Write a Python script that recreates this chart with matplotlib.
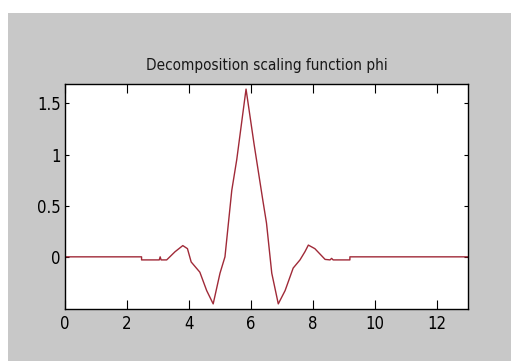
import matplotlib.pyplot as plt
from matplotlib.patches import Rectangle

# points
x_pts = [0, 2.47, 2.47, 3.04, 3.07, 3.10, 3.28, 3.55, 3.80, 3.95, 4.07, 4.35,
         4.57, 4.78, 5.00, 5.16, 5.38, 5.54, 5.84, 6.10, 6.38, 6.50, 6.67, 6.88,
         7.10, 7.36, 7.58, 7.74, 7.85, 8.06, 8.39, 8.55, 8.60, 8.65, 9.19, 9.19, 13]
y_pts = [0, 0, -0.03, -0.03, 0.0, -0.03, -0.03, 0.05, 0.11, 0.08, -0.05, -0.15,
         -0.33, -0.46, -0.16, 0.0, 0.65, 0.95, 1.64, 1.10, 0.556, 0.33, -0.16, -0.46,
         -0.33, -0.11, -0.03, 0.05, 0.115, 0.08, -0.025, -0.03, -0.015, -0.03, -0.03, 0, 0]
x_ticks = [0, 2, 4, 6, 8, 10, 12]
y_ticks = [0, 0.5, 1, 1.5]
y_labels = ['0', '0.5', '1', '1.5']

plt.rcParams['font.family'] = 'DejaVu Sans'
plt.rcParams['font.stretch'] = 'condensed'

fig = plt.figure(figsize=(5.11, 3.61), dpi=100, facecolor='white')
bg = Rectangle((8 / 511, 0), 1, (361 - 13) / 361, transform=fig.transFigure,
               facecolor='#c8c8c8', edgecolor='none', zorder=-10)
fig.add_artist(bg)

ax = fig.add_axes([65 / 511, 52 / 361, 403 / 511, 225 / 361])
ax.set_zorder(1)
ax.plot(x_pts, y_pts, color='#a02a38', lw=1.0)
ax.set_xlim(0, 13)
ax.set_ylim(-0.51, 1.69)
ax.set_xticks(x_ticks)
ax.set_yticks(y_ticks)
ax.set_yticklabels(y_labels)
ax.tick_params(axis='x', direction='in', length=6.5, width=0.8, top=True, labelsize=12, pad=4)
ax.tick_params(axis='y', direction='in', length=3, width=0.8, right=True, labelsize=12, pad=3)
for s in ax.spines.values():
    s.set_linewidth(1.0)
ax.set_title('Decomposition scaling function phi', fontsize=11, pad=10, color='#181818')

fig.savefig('out.png', dpi=100)
